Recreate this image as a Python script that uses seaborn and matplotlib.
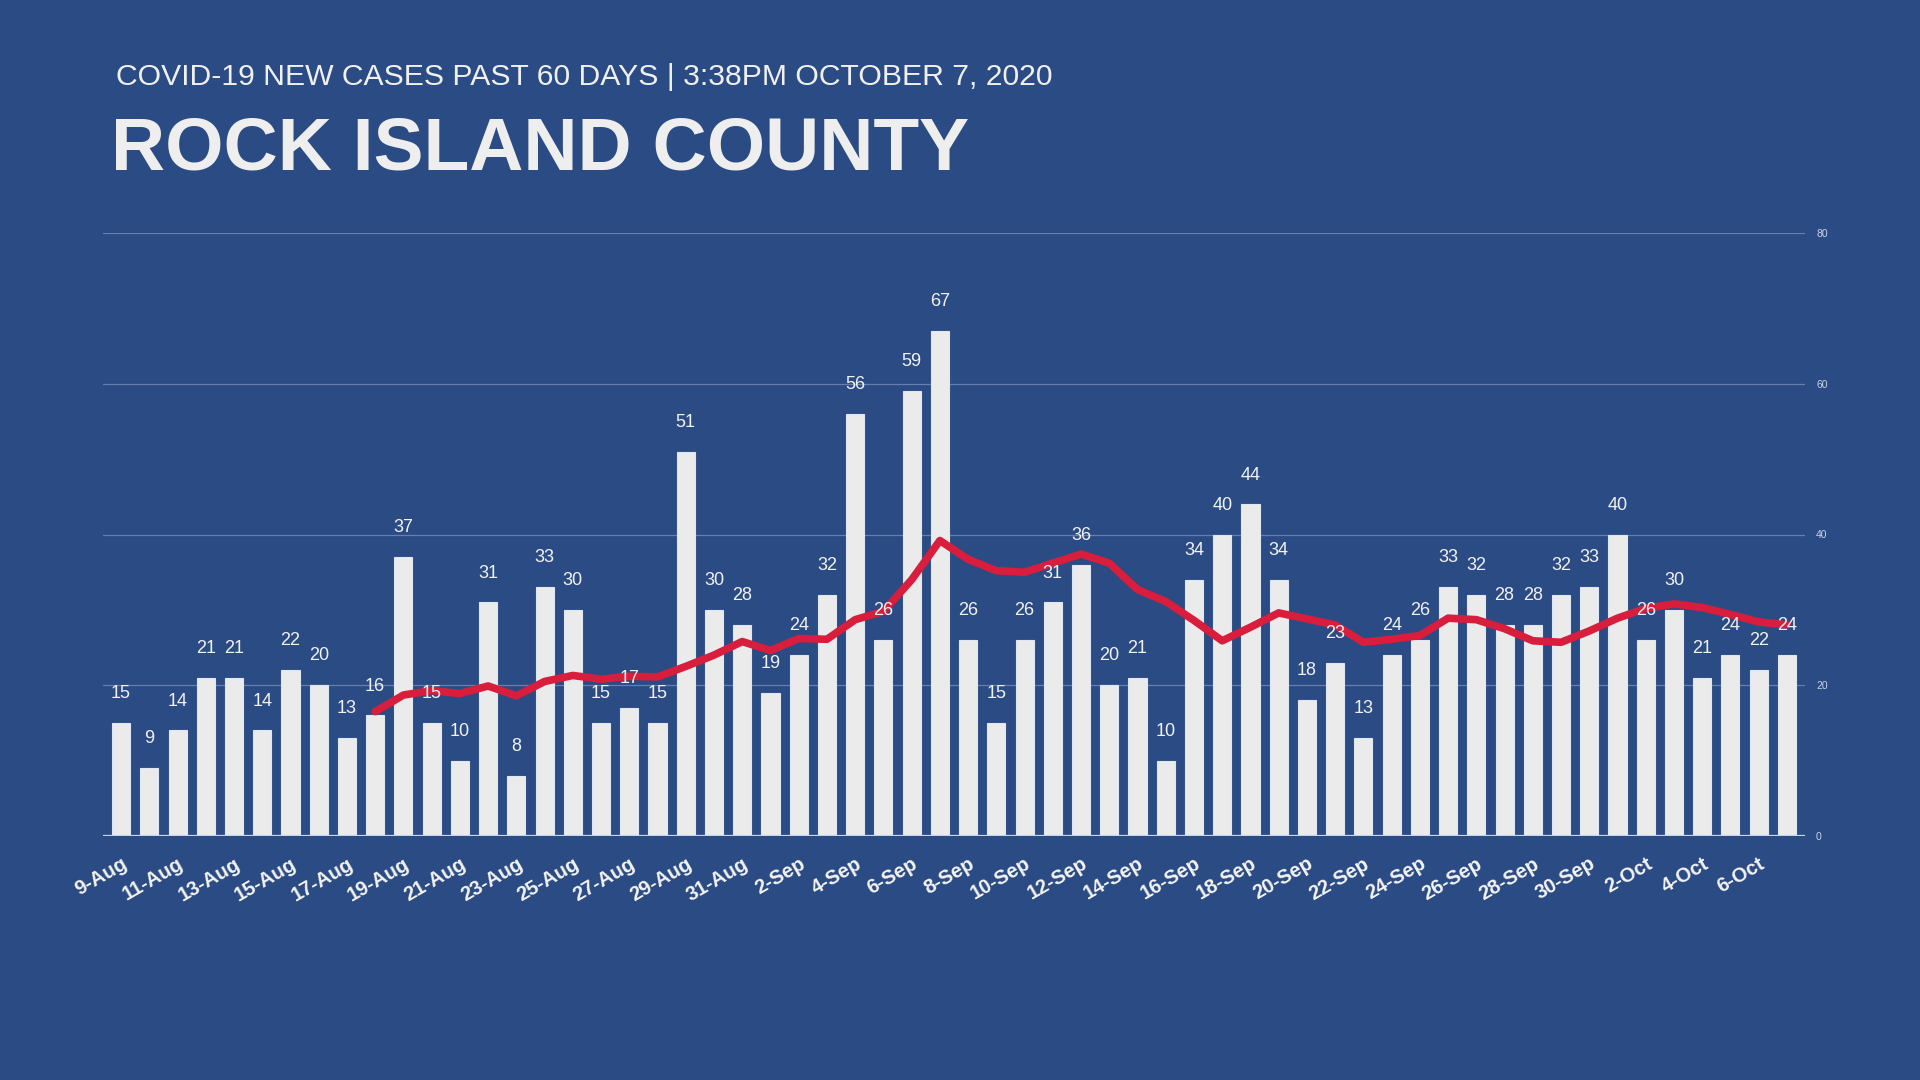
import numpy as np
import pandas as pd
import seaborn as sns
import matplotlib.pyplot as plt

# daily new cases, 9-Aug .. 7-Oct 2020
cases = [15, 9, 14, 21, 21, 14, 22, 20, 13, 16,
         37, 15, 10, 31, 8, 33, 30, 15, 17, 15,
         51, 30, 28, 19, 24, 32, 56, 26, 59, 67,
         26, 15, 26, 31, 36, 20, 21, 10, 34, 40,
         44, 34, 18, 23, 13, 24, 26, 33, 32, 28,
         28, 32, 33, 40, 26, 30, 21, 24, 22, 24]

# red trend line (10-day average), starts at 18-Aug
trend_start = 9
trend = [16.5, 18.7, 19.3, 18.9, 19.9, 18.6, 20.5, 21.3, 20.8, 21.2,
         21.1, 22.5, 24.0, 25.8, 24.6, 26.2, 26.1, 28.7, 29.8, 34.0,
         39.2, 36.7, 35.2, 35.0, 36.2, 37.4, 36.2, 32.7, 31.1, 28.6,
         25.9, 27.7, 29.6, 28.8, 28.0, 25.7, 26.1, 26.6, 28.9, 28.7,
         27.5, 25.9, 25.7, 27.2, 28.9, 30.2, 30.8, 30.3, 29.4, 28.4,
         28.0]

dates = pd.date_range('2020-08-09', periods=len(cases), freq='D')
day_labels = [f"{d.day}-{d.strftime('%b')}" for d in dates]
y_ticks = [0, 20, 40, 60, 80]

bg = '#2a4b83'
bar_color = '#ebebeb'
red = '#d81e3c'

sns.set_style('white')
plt.rcParams['font.family'] = ['Liberation Sans', 'DejaVu Sans']

fig = plt.figure(figsize=(19.2, 10.8), dpi=100, facecolor=bg)
ax = fig.add_axes([103 / 1920, 1 - 836 / 1080, 1702 / 1920, (836 - 233) / 1080])
ax.set_facecolor(bg)

df = pd.DataFrame({'day': day_labels, 'cases': cases})
sns.barplot(data=df, x='day', y='cases', color=bar_color, width=0.64,
            saturation=1, ax=ax, zorder=2, edgecolor='#dfe6f5', linewidth=0.8)
bars = ax.containers[0]

tx = np.arange(trend_start, trend_start + len(trend))
sns.lineplot(x=tx, y=trend, color=red, linewidth=5.5, ax=ax, zorder=3)
for ln in ax.lines:
    ln.set_solid_capstyle('round')
    ln.set_solid_joinstyle('round')

ax.bar_label(bars, labels=[str(v) for v in cases], padding=15,
             fontsize=13, color='#f2f2f2', zorder=4)

ax.set_xlim(-0.64, len(cases) - 1 + 0.64)
ax.set_ylim(0, 80)
ax.set_xlabel('')
ax.set_ylabel('')

ax.set_xticks(range(0, len(cases), 2))
ax.set_xticklabels(day_labels[::2], rotation=30, ha='right',
                   rotation_mode='anchor', fontsize=14.5,
                   fontweight='bold', color='#f4f4f4')
ax.tick_params(axis='x', length=0, pad=13)

ax.yaxis.tick_right()
ax.set_yticks(y_ticks)
ax.set_yticklabels([str(t) for t in y_ticks], fontsize=7.5, color='#c9d3e6')
ax.tick_params(axis='y', length=0, pad=8)

for t in y_ticks[1:]:
    ax.axhline(t, color='#6580b0', linewidth=0.9, zorder=1)
ax.axhline(0, color='#c8d4ea', linewidth=1.6, zorder=5)

for s in ax.spines.values():
    s.set_visible(False)

fig.text(116 / 1920, 1 - 85 / 1080,
         'COVID-19 NEW CASES PAST 60 DAYS | 3:38PM OCTOBER 7, 2020',
         fontsize=21.7, color='#f0f0f0', va='baseline', ha='left')
fig.text(111 / 1920, 1 - 169 / 1080, 'ROCK ISLAND COUNTY',
         fontsize=54, fontweight='bold', color='#eeeeee',
         va='baseline', ha='left')

fig.savefig('out.png', dpi=100, facecolor=bg)
